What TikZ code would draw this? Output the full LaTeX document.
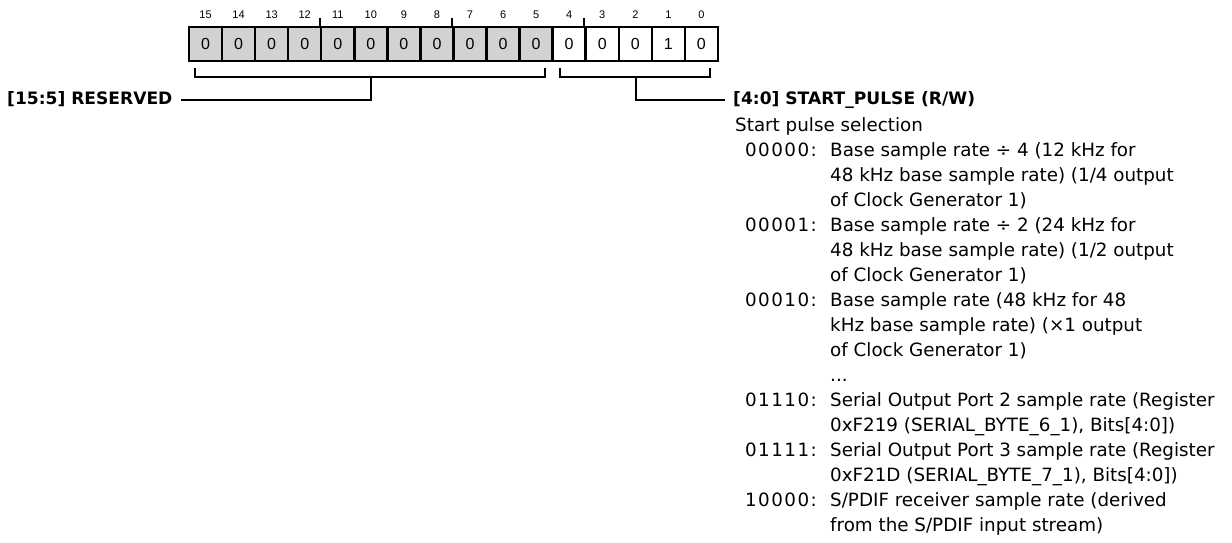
\documentclass[tikz,border=0pt]{standalone}
\usepackage{fontspec}
\setmainfont{DejaVu Sans}
\newfontfamily\numfont{Liberation Sans}
\newfontfamily\codefont[LetterSpace=8]{DejaVu Sans}
\begin{document}
\begin{tikzpicture}[x=1pt,y=-1pt,
  bitbox/.style={draw,line width=2.5pt,minimum width=33.06pt,minimum height=34pt,inner sep=0pt,font=\numfont\fontsize{16}{18}\selectfont},
  bitnum/.style={inner sep=0pt,font=\numfont\fontsize{11}{13}\selectfont},
  brk/.style={line width=2.3pt},
  hdr/.style={inner sep=0pt,anchor=base west,font=\bfseries\fontsize{17.1}{20}\selectfont},
  code/.style={inner sep=0pt,anchor=base east,font=\codefont\fontsize{18.3}{25}\selectfont},
  desc/.style={inner sep=0pt,anchor=base west,font=\fontsize{18.3}{25}\selectfont}]
\useasboundingbox (0,0) rectangle (1232,542);
\fill[white] (0,0) rectangle (1232,542);
% bit boxes
\foreach \i/\v in {15/0,14/0,13/0,12/0,11/0,10/0,9/0,8/0,7/0,6/0,5/0}{
  \node[bitbox,fill=gray!35] (b\i) at ({189+(15-\i)*33.06+16.53},44) {\v};
  \node[bitnum] (n\i) at ({189+(15-\i)*33.06+16.53},15) {\i};
}
\foreach \i/\v in {4/0,3/0,2/0,1/1,0/0}{
  \node[bitbox,fill=white] (b\i) at ({189+(15-\i)*33.06+16.53},44) {\v};
  \node[bitnum] (n\i) at ({189+(15-\i)*33.06+16.53},15) {\i};
}
% nibble ticks
\foreach \i in {11,7,3}{
  \draw[line width=2pt] (b\i.north west) -- ++(0,-8);
}
% labels
\node[hdr] (res) at (7,104.5) {[15:5] RESERVED};
\node[hdr] (sp) at (733,104.5) {[4:0] START\_PULSE (R/W)};
% brackets
\coordinate (r1) at (195,68);
\coordinate (r2) at (545,68);
\coordinate (rm) at (371,77);
\draw[brk] (r1) |- (r2 |- rm) -- (r2);
\draw[brk] (rm) |- ([xshift=8pt,yshift=4.5pt]res.base east);
\coordinate (s1) at (560,68);
\coordinate (s2) at (710,68);
\coordinate (sm) at (636,77);
\draw[brk] (s1) |- (s2 |- sm) -- (s2);
\draw[brk] (sm) |- ([xshift=-8pt,yshift=4.5pt]sp.base west);
% description
\node[desc] (t0) at (735,131.5) {Start pulse selection};
\node[code] (c1) at (817,156.5) {00000:};
\node[desc] (d1a) at (830,156.5) {Base sample rate ÷ 4 (12 kHz for};
\node[desc] (d1b) at (830,181.5) {48 kHz base sample rate) (1/4 output};
\node[desc] (d1c) at (830,206.5) {of Clock Generator 1)};
\node[code] (c2) at (817,231.5) {00001:};
\node[desc] (d2a) at (830,231.5) {Base sample rate ÷ 2 (24 kHz for};
\node[desc] (d2b) at (830,256.5) {48 kHz base sample rate) (1/2 output};
\node[desc] (d2c) at (830,281.5) {of Clock Generator 1)};
\node[code] (c3) at (817,306.5) {00010:};
\node[desc] (d3a) at (830,306.5) {Base sample rate (48 kHz for 48};
\node[desc] (d3b) at (830,331.5) {kHz base sample rate) (×1 output};
\node[desc] (d3c) at (830,356.5) {of Clock Generator 1)};
\node[desc] (dots) at (830,381.5) {...};
\node[code] (c4) at (817,406.5) {01110:};
\node[desc] (d4a) at (830,406.5) {Serial Output Port 2 sample rate (Register};
\node[desc] (d4b) at (830,431.5) {0xF219 (SERIAL\_BYTE\_6\_1), Bits[4:0])};
\node[code] (c5) at (817,456.5) {01111:};
\node[desc] (d5a) at (830,456.5) {Serial Output Port 3 sample rate (Register};
\node[desc] (d5b) at (830,481.5) {0xF21D (SERIAL\_BYTE\_7\_1), Bits[4:0])};
\node[code] (c6) at (817,506.5) {10000:};
\node[desc] (d6a) at (830,506.5) {S/PDIF receiver sample rate (derived};
\node[desc] (d6b) at (830,531.5) {from the S/PDIF input stream)};
\end{tikzpicture}
\end{document}
